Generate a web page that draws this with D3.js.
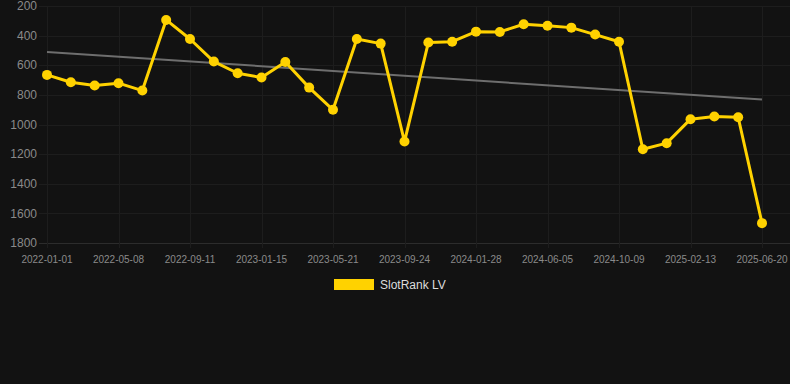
<!DOCTYPE html>
<html>
<head>
<meta charset="utf-8">
<script src="https://cdn.jsdelivr.net/npm/d3@7"></script>
<style>
  html, body { margin: 0; padding: 0; background: #121212; }
  svg { display: block; font-family: "Liberation Sans", Arial, sans-serif; }
</style>
</head>
<body>
<div id="wrapper"></div>
<script>
// categories (one point every ~6 weeks)
const dates = [
  "2022-01-01", "2022-02-12", "2022-03-26", "2022-05-08", "2022-06-19", "2022-07-31",
  "2022-09-11", "2022-10-23", "2022-12-04", "2023-01-15", "2023-02-26", "2023-04-09",
  "2023-05-21", "2023-07-02", "2023-08-13", "2023-09-24", "2023-11-05", "2023-12-17",
  "2024-01-28", "2024-03-10", "2024-04-23", "2024-06-05", "2024-07-18", "2024-08-29",
  "2024-10-09", "2024-11-20", "2025-01-01", "2025-02-13", "2025-03-27", "2025-05-08",
  "2025-06-20"
];
// rank values
const rankValues = [
  665, 715, 737, 721, 771, 294,
  423, 575, 654, 683, 578, 751,
  901, 423, 454, 1115, 447, 441,
  373, 375, 323, 333, 346, 393,
  441, 1167, 1126, 964, 946, 951,
  1666
];
// trend line ends
const trendValues = [510, 832];
const yTicks = [200, 400, 600, 800, 1000, 1200, 1400, 1600, 1800];
const seriesName = "SlotRank LV";

const width = 790;
const height = 384;
const margin = { top: 6, right: 28, bottom: 141, left: 47 };
const innerW = width - margin.left - margin.right;
const innerH = height - margin.top - margin.bottom;

const svg = d3.select("#wrapper").append("svg")
  .attr("width", width)
  .attr("height", height);

svg.append("rect").attr("width", width).attr("height", height).attr("fill", "#121212");

const bounds = svg.append("g")
  .attr("transform", `translate(${margin.left},${margin.top})`);

const xScale = d3.scalePoint().domain(dates).range([0, innerW]);
const yScale = d3.scaleLinear().domain([200, 1800]).range([0, innerH]);

// horizontal grid
bounds.append("g")
  .selectAll("line")
  .data(yTicks)
  .join("line")
  .attr("x1", -8)
  .attr("x2", innerW + 28)
  .attr("y1", (d) => Math.round(yScale(d)) + 0.5)
  .attr("y2", (d) => Math.round(yScale(d)) + 0.5)
  .attr("stroke", (d) => (d === 1800 ? "#2c2c2c" : "#1d1d1d"))
  .attr("stroke-width", 1);

// vertical grid at labelled categories
const labelled = dates.filter((d, i) => i % 3 === 0);
bounds.append("g")
  .selectAll("line")
  .data(labelled)
  .join("line")
  .attr("x1", (d) => Math.round(xScale(d)) + 0.5)
  .attr("x2", (d) => Math.round(xScale(d)) + 0.5)
  .attr("y1", 0)
  .attr("y2", innerH + 5)
  .attr("stroke", "#1d1d1d")
  .attr("stroke-width", 1);

// y labels
bounds.append("g")
  .selectAll("text")
  .data(yTicks)
  .join("text")
  .attr("x", -10)
  .attr("y", (d) => yScale(d))
  .attr("dy", "0.35em")
  .attr("text-anchor", "end")
  .attr("fill", "#8a8a8a")
  .attr("font-size", 12)
  .text((d) => d);

// x labels
bounds.append("g")
  .selectAll("text")
  .data(labelled)
  .join("text")
  .attr("x", (d) => xScale(d))
  .attr("y", innerH + 16)
  .attr("dy", "0.35em")
  .attr("text-anchor", "middle")
  .attr("fill", "#8a8a8a")
  .attr("font-size", 10)
  .text((d) => d);

// trend line
bounds.append("line")
  .attr("x1", xScale(dates[0]))
  .attr("x2", xScale(dates[dates.length - 1]))
  .attr("y1", yScale(trendValues[0]))
  .attr("y2", yScale(trendValues[1]))
  .attr("stroke", "#6e6e6e")
  .attr("stroke-width", 2);

const lineGenerator = d3.line()
  .x((d, i) => xScale(dates[i]))
  .y((d) => yScale(d));

bounds.append("path")
  .attr("d", lineGenerator(rankValues))
  .attr("fill", "none")
  .attr("stroke", "#ffd200")
  .attr("stroke-width", 3)
  .attr("stroke-linejoin", "round");

bounds.append("g")
  .selectAll("circle")
  .data(rankValues)
  .join("circle")
  .attr("cx", (d, i) => xScale(dates[i]))
  .attr("cy", (d) => yScale(d))
  .attr("r", 5)
  .attr("fill", "#ffd200");

// legend
const legend = svg.append("g").attr("transform", "translate(334,279)");
legend.append("rect")
  .attr("width", 40)
  .attr("height", 11)
  .attr("fill", "#ffd200");
legend.append("text")
  .attr("x", 46)
  .attr("y", 5.5)
  .attr("dy", "0.35em")
  .attr("fill", "#dddddd")
  .attr("font-size", 12)
  .text(seriesName);
</script>
</body>
</html>
